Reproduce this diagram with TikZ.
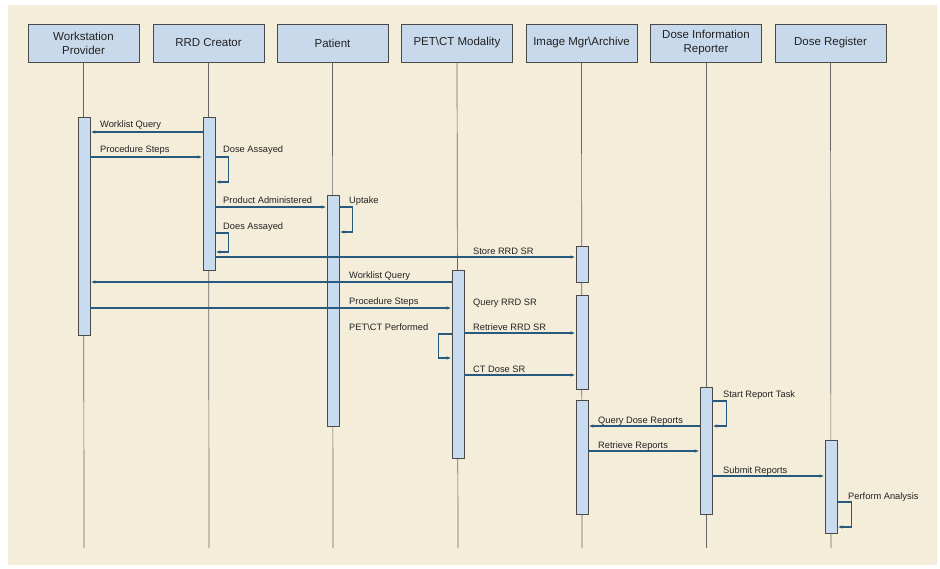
\documentclass[tikz,border=0pt]{standalone}
\usepackage{fontspec}
\setmainfont{Liberation Sans}
\usetikzlibrary{arrows.meta}
\definecolor{bgcream}{HTML}{F3EDDA}
\definecolor{hdrfill}{HTML}{C8D9EC}
\definecolor{hdrline}{HTML}{4A4A4A}
\definecolor{barfill}{HTML}{C9DBEE}
\definecolor{lifegray}{HTML}{666666}
\definecolor{msgblue}{HTML}{285A80}
\definecolor{txtgray}{HTML}{222222}
\begin{document}
\begin{tikzpicture}[x=1pt,y=-1pt,
  hdr/.style={draw=hdrline, fill=hdrfill, line width=1pt, minimum width=111pt,
    minimum height=38pt, align=center, inner sep=1pt, text=txtgray,
    font=\fontsize{11.5}{14}\selectfont},
  lifeline/.style={draw=lifegray, line width=0.7pt},
  actbar/.style={draw=hdrline, fill=barfill, line width=0.9pt, minimum width=12pt, inner sep=0pt},
  msg/.style={draw=msgblue, line width=1.1pt, -{Latex[length=5pt,width=3.5pt]}},
  lbl/.style={anchor=base west, inner sep=0pt, text=txtgray, font=\fontsize{9.3}{11}\selectfont}]
% page and backdrop
\fill[white] (0,0) rectangle (940,568);
\fill[bgcream] (8,5) rectangle (937,565);
\useasboundingbox (0,0) rectangle (940,568);

% participants
\node[hdr] (wp) at (83.5,43) {Workstation\\Provider};
\node[hdr] (rc) at (208.5,43) {RRD Creator};
\node[hdr] (pt) at (332.5,43) {Patient};
\node[hdr] (pc) at (457,43) {PET\textbackslash CT Modality};
\node[hdr] (im) at (581.5,43) {Image Mgr\textbackslash Archive};
\node[hdr] (dr) at (706,43) {Dose Information\\Reporter};
\node[hdr] (dg) at (830.5,43) {Dose Register};

% lifeline ends
\coordinate (wpE) at (84,548);
\coordinate (rcE) at (209,548);
\coordinate (ptE) at (333,548);
\coordinate (pcE) at (458,548);
\coordinate (imE) at (582,548);
\coordinate (drE) at (706,548);
\coordinate (dgE) at (831,548);
\foreach \p in {wp,rc,pt,pc,im,dr,dg}
  \draw[lifeline] (\p.south) -- (\p E);

% activation bars
\node[actbar, minimum height=218pt] (wpA) at (84,226) {};
\node[actbar, minimum height=153pt] (rcA) at (209,193.5) {};
\node[actbar, minimum height=231pt] (ptA) at (333,310.5) {};
\node[actbar, minimum height=188pt] (pcA) at (458,364) {};
\node[actbar, minimum height=36pt] (imA) at (582,264) {};
\node[actbar, minimum height=94pt] (imB) at (582,342) {};
\node[actbar, minimum height=114pt] (imC) at (582,457) {};
\node[actbar, minimum height=127pt] (drA) at (706,450.5) {};
\node[actbar, minimum height=93pt] (dgA) at (831,486.5) {};

% message rows
\coordinate (m1) at (0,132);
\coordinate (m2) at (0,157);
\coordinate (s1a) at (0,157); \coordinate (s1b) at (0,182);
\coordinate (m3) at (0,207);
\coordinate (s2a) at (0,207); \coordinate (s2b) at (0,232);
\coordinate (s3a) at (0,233); \coordinate (s3b) at (0,252);
\coordinate (m4) at (0,257);
\coordinate (m5) at (0,282);
\coordinate (m6) at (0,308);
\coordinate (s4a) at (0,334); \coordinate (s4b) at (0,358);
\coordinate (m7) at (0,333);
\coordinate (m8) at (0,375);
\coordinate (s5a) at (0,401); \coordinate (s5b) at (0,426);
\coordinate (m9) at (0,426);
\coordinate (m10) at (0,451);
\coordinate (m11) at (0,476);
\coordinate (s6a) at (0,502); \coordinate (s6b) at (0,527);

% messages
\draw[msg] (rcA.west |- m1) -- (wpA.east |- m1);
\draw[msg] (wpA.east |- m2) -- (rcA.west |- m2);
\draw[msg] (rcA.east |- s1a) -- ++(13,0) |- (rcA.east |- s1b);
\draw[msg] (rcA.east |- m3) -- (ptA.west |- m3);
\draw[msg] (ptA.east |- s2a) -- ++(13,0) |- (ptA.east |- s2b);
\draw[msg] (rcA.east |- s3a) -- ++(13,0) |- (rcA.east |- s3b);
\draw[msg] (rcA.east |- m4) -- (imA.west |- m4);
\draw[msg] (pcA.west |- m5) -- (wpA.east |- m5);
\draw[msg] (wpA.east |- m6) -- (pcA.west |- m6);
\draw[msg] (pcA.west |- s4a) -- ++(-13,0) |- (pcA.west |- s4b);
\draw[msg] (pcA.east |- m7) -- (imB.west |- m7);
\draw[msg] (pcA.east |- m8) -- (imB.west |- m8);
\draw[msg] (drA.east |- s5a) -- ++(14,0) |- (drA.east |- s5b);
\draw[msg] (drA.west |- m9) -- (imC.east |- m9);
\draw[msg] (imC.east |- m10) -- (drA.west |- m10);
\draw[msg] (drA.east |- m11) -- (dgA.west |- m11);
\draw[msg] (dgA.east |- s6a) -- ++(14,0) |- (dgA.east |- s6b);

% message labels
\node[lbl] (l1) at (100,127.5) {Worklist Query};
\node[lbl] (l2) at (100,152.5) {Procedure Steps};
\node[lbl] (l3) at (223,152.5) {Dose Assayed};
\node[lbl] (l4) at (223,203) {Product Administered};
\node[lbl] (l5) at (349,203) {Uptake};
\node[lbl] (l6) at (223,229) {Does Assayed};
\node[lbl] (l7) at (473,254) {Store RRD SR};
\node[lbl] (l8) at (349,278.5) {Worklist Query};
\node[lbl] (l9) at (349,304.5) {Procedure Steps};
\node[lbl] (l10) at (473,305.5) {Query RRD SR};
\node[lbl] (l11) at (349,330.5) {PET\textbackslash CT Performed};
\node[lbl] (l12) at (473,330) {Retrieve RRD SR};
\node[lbl] (l13) at (473,372) {CT Dose SR};
\node[lbl] (l14) at (723,397.5) {Start Report Task};
\node[lbl] (l15) at (598,423) {Query Dose Reports};
\node[lbl] (l16) at (598,448) {Retrieve Reports};
\node[lbl] (l17) at (723,473) {Submit Reports};
\node[lbl] (l18) at (848,499.5) {Perform Analysis};
\end{tikzpicture}
\end{document}
